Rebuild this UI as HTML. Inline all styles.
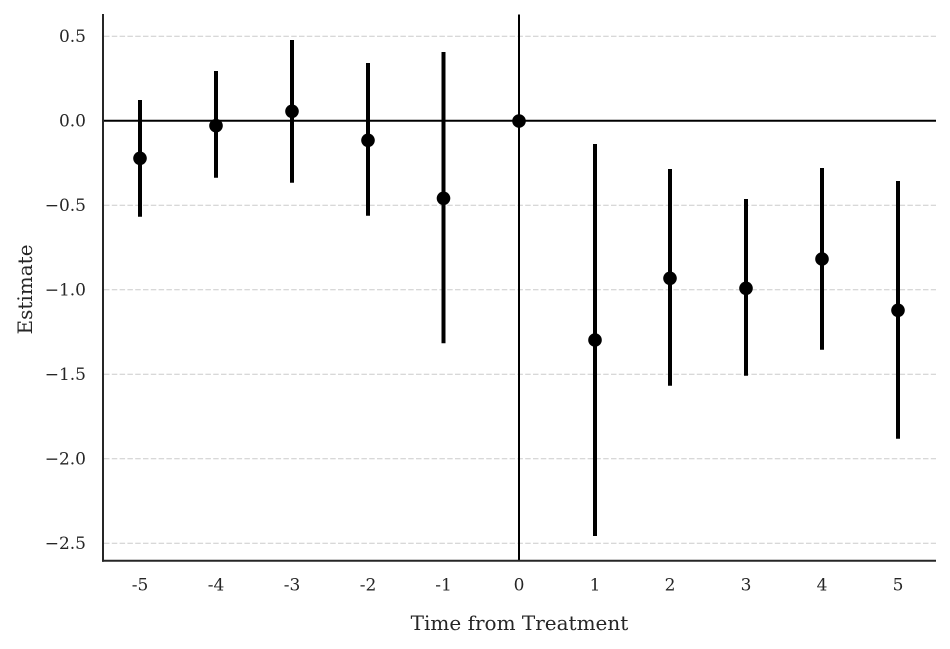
<!DOCTYPE html>
<html>
<head>
<meta charset="utf-8">
<style>
html,body{margin:0;padding:0;background:#fff;}
svg{display:block;}
text{font-family:"DejaVu Serif","Liberation Serif",serif;fill:#262626;}
</style>
</head>
<body>
<svg width="950" height="649" viewBox="0 0 950 649" xmlns="http://www.w3.org/2000/svg">
<rect width="950" height="649" fill="#fff"/>
<!-- gridlines -->
<g stroke="#cccccc" stroke-width="1" stroke-dasharray="5.5,2.3">
<line x1="104" y1="36.2" x2="936" y2="36.2"/>
<line x1="104" y1="120.7" x2="936" y2="120.7"/>
<line x1="104" y1="205.2" x2="936" y2="205.2"/>
<line x1="104" y1="289.7" x2="936" y2="289.7"/>
<line x1="104" y1="374.2" x2="936" y2="374.2"/>
<line x1="104" y1="458.7" x2="936" y2="458.7"/>
<line x1="104" y1="543.2" x2="936" y2="543.2"/>
</g>
<!-- zero lines -->
<line x1="103" y1="120.8" x2="936" y2="120.8" stroke="#000" stroke-width="2"/>
<line x1="519" y1="14.5" x2="519" y2="561" stroke="#000" stroke-width="2"/>
<!-- error bars -->
<g stroke="#000" stroke-width="4">
<line x1="140" y1="100" x2="140" y2="216.7"/>
<line x1="216" y1="71" x2="216" y2="177.7"/>
<line x1="292" y1="40" x2="292" y2="182.7"/>
<line x1="368" y1="63" x2="368" y2="215.7"/>
<line x1="443.5" y1="52" x2="443.5" y2="343.3"/>
<line x1="595" y1="144" x2="595" y2="536"/>
<line x1="670" y1="169" x2="670" y2="385.7"/>
<line x1="746" y1="199" x2="746" y2="375.7"/>
<line x1="822" y1="168" x2="822" y2="349.7"/>
<line x1="898" y1="181" x2="898" y2="438.7"/>
</g>
<!-- points -->
<g fill="#000">
<circle cx="140" cy="158.3" r="6.8"/>
<circle cx="216" cy="125.7" r="6.8"/>
<circle cx="292" cy="111.3" r="6.8"/>
<circle cx="368" cy="140.3" r="6.8"/>
<circle cx="443.5" cy="198.3" r="6.8"/>
<circle cx="519" cy="121" r="6.8"/>
<circle cx="595" cy="340" r="6.8"/>
<circle cx="670" cy="278.3" r="6.8"/>
<circle cx="746" cy="288.3" r="6.8"/>
<circle cx="822" cy="259" r="6.8"/>
<circle cx="898" cy="310.3" r="6.8"/>
</g>
<!-- spines -->
<line x1="103" y1="14" x2="103" y2="561.7" stroke="#262626" stroke-width="2"/>
<line x1="102" y1="560.7" x2="936" y2="560.7" stroke="#262626" stroke-width="2"/>
<!-- y tick labels -->
<g font-size="17" text-anchor="end">
<text x="86" y="42.2">0.5</text>
<text x="86" y="126.7">0.0</text>
<text x="86" y="211.2">−0.5</text>
<text x="86" y="295.7">−1.0</text>
<text x="86" y="380.2">−1.5</text>
<text x="86" y="464.7">−2.0</text>
<text x="86" y="549.2">−2.5</text>
</g>
<!-- x tick labels -->
<g font-size="17" text-anchor="middle">
<text x="140" y="590.5">-5</text>
<text x="216" y="590.5">-4</text>
<text x="292" y="590.5">-3</text>
<text x="368" y="590.5">-2</text>
<text x="443.5" y="590.5">-1</text>
<text x="519" y="590.5">0</text>
<text x="595" y="590.5">1</text>
<text x="670" y="590.5">2</text>
<text x="746" y="590.5">3</text>
<text x="822" y="590.5">4</text>
<text x="898" y="590.5">5</text>
</g>
<!-- axis labels -->
<text x="519.5" y="630" font-size="20" text-anchor="middle">Time from Treatment</text>
<text transform="translate(32,289.5) rotate(-90)" font-size="20" text-anchor="middle">Estimate</text>
</svg>
</body>
</html>
